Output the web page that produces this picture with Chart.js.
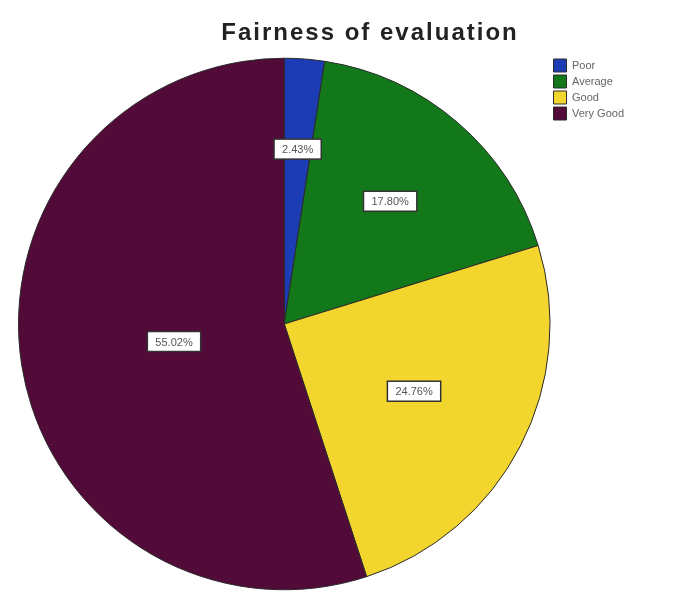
<!DOCTYPE html>
<html>
<head>
<meta charset="utf-8">
<script src="https://cdn.jsdelivr.net/npm/chart.js@4"></script>
<style>
    html, body { margin: 0; padding: 0; background: #fff; }
    #wrap { width: 686px; height: 592px; position: relative; }
</style>
</head>
<body>
<div id="wrap"><canvas id="pieChart"></canvas></div>
<script>
// Datos del gráfico
const chartTitle = 'Fairness of evaluation';
const categories = ['Poor', 'Average', 'Good', 'Very Good'];
const percentages = [2.43, 17.80, 24.76, 55.02];
const sliceColors = ['#1c3cb4', '#12781a', '#f2d62e', '#520a38'];

// Distancia relativa de cada etiqueta al centro (solo estilo)
const labelRadius = [0.66, 0.61, 0.55, 0.42];

// Título dibujado a mano para poder desplazarlo
const titlePlugin = {
    id: 'customTitle',
    afterDraw(chart) {
        const ctx = chart.ctx;
        ctx.save();
        ctx.font = 'bold 24px "Liberation Sans", Arial, sans-serif';
        ctx.letterSpacing = '2px';
        ctx.fillStyle = '#222';
        ctx.textAlign = 'center';
        ctx.textBaseline = 'middle';
        ctx.fillText(chartTitle, 370, 33);
        ctx.restore();
    }
};

// Etiquetas de porcentaje con caja blanca
const boxLabelPlugin = {
    id: 'boxLabels',
    afterDatasetsDraw(chart) {
        const ctx = chart.ctx;
        const meta = chart.getDatasetMeta(0);
        ctx.save();
        ctx.font = '11px "Liberation Sans", Arial, sans-serif';
        ctx.textAlign = 'center';
        ctx.textBaseline = 'middle';
        meta.data.forEach((arc, i) => {
            const p = arc.getProps(['x', 'y', 'startAngle', 'endAngle', 'outerRadius'], true);
            const mid = (p.startAngle + p.endAngle) / 2;
            const r = p.outerRadius * labelRadius[i];
            const x = p.x + Math.cos(mid) * r;
            const y = p.y + Math.sin(mid) * r;
            const text = percentages[i].toFixed(2) + '%';
            const w = ctx.measureText(text).width + 16;
            const h = 20;
            ctx.fillStyle = '#fff';
            ctx.fillRect(x - w / 2, y - h / 2, w, h);
            ctx.strokeStyle = '#333';
            ctx.lineWidth = 1.5;
            ctx.strokeRect(x - w / 2, y - h / 2, w, h);
            ctx.fillStyle = '#555';
            ctx.fillText(text, x, y + 1);
        });
        ctx.restore();
    }
};

const pieChart = new Chart(document.getElementById('pieChart'), {
    type: 'pie',
    data: {
        labels: categories,
        datasets: [{
            data: percentages,
            backgroundColor: sliceColors,
            borderColor: '#2a2a2a',
            borderWidth: 1
        }]
    },
    options: {
        responsive: true,
        maintainAspectRatio: false,
        animation: false,
        layout: {
            padding: { top: 56, left: 18, right: 52, bottom: 0 }
        },
        plugins: {
            legend: {
                position: 'right',
                align: 'start',
                labels: {
                    boxWidth: 13,
                    boxHeight: 13,
                    padding: 3,
                    color: '#666',
                    font: { size: 11, family: '"Liberation Sans", Arial, sans-serif' }
                }
            },
            tooltip: { enabled: false },
            title: { display: false }
        }
    },
    plugins: [titlePlugin, boxLabelPlugin]
});
</script>
</body>
</html>
